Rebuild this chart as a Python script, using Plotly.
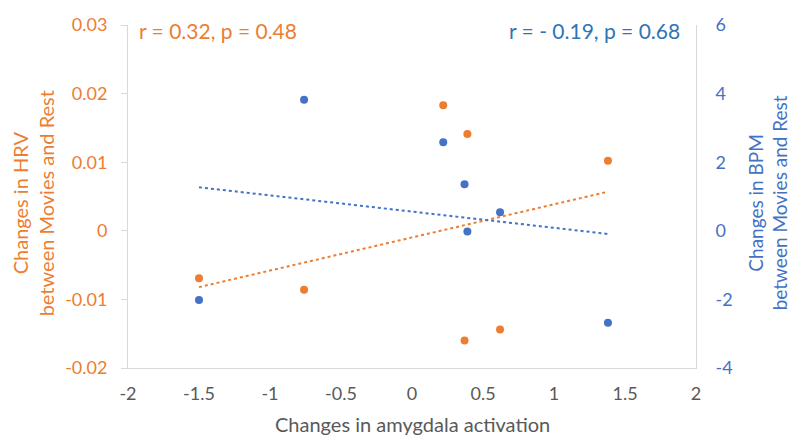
import numpy as np
import plotly.graph_objects as go

# Data
amygdala = [-1.50, -0.76, 0.22, 0.37, 0.39, 0.62, 1.38]
hrv = [-0.0069, -0.0086, 0.0183, -0.0160, 0.0141, -0.0144, 0.0102]
bpm = [-2.02, 3.82, 2.58, 1.36, -0.02, 0.54, -2.68]

x_ticks = [-2, -1.5, -1, -0.5, 0, 0.5, 1, 1.5, 2]
hrv_ticks = [-0.02, -0.01, 0, 0.01, 0.02, 0.03]
hrv_tick_labels = ["-0.02", "-0.01", "0", "0.01", "0.02", "0.03"]
bpm_ticks = [-4, -2, 0, 2, 4, 6]

hrv_label = "r = 0.32, p = 0.48"
bpm_label = "r = - 0.19, p = 0.68"

ORANGE = "#ED7D31"
BLUE = "#4472C4"
BLUE_TXT = "#2E75B6"
GRAY = "#595959"
AXIS = "#D9D9D9"
FONT = "Lato, 'Open Sans', sans-serif"

xa = np.array(amygdala)
x_line = np.array([xa.min(), xa.max()])
k1, b1 = np.polyfit(xa, np.array(hrv), 1)
k2, b2 = np.polyfit(xa, np.array(bpm), 1)

fig = go.Figure()
fig.add_trace(go.Scatter(x=x_line, y=k1 * x_line + b1, mode="lines",
                         line=dict(color=ORANGE, width=2, dash="dot"),
                         yaxis="y", showlegend=False, hoverinfo="skip"))
fig.add_trace(go.Scatter(x=x_line, y=k2 * x_line + b2, mode="lines",
                         line=dict(color=BLUE, width=2, dash="dot"),
                         yaxis="y2", showlegend=False, hoverinfo="skip"))
fig.add_trace(go.Scatter(x=amygdala, y=hrv, mode="markers",
                         marker=dict(color=ORANGE, size=8),
                         yaxis="y", showlegend=False))
fig.add_trace(go.Scatter(x=amygdala, y=bpm, mode="markers",
                         marker=dict(color=BLUE, size=8),
                         yaxis="y2", showlegend=False))

fig.update_layout(
    width=794, height=437,
    margin=dict(l=128, r=98, t=25, b=69),
    paper_bgcolor="white", plot_bgcolor="white",
    font=dict(family=FONT, size=18, color=GRAY),
    xaxis=dict(range=[-2, 2], tickvals=x_ticks, ticktext=[str(t) for t in x_ticks],
               showgrid=False, zeroline=False, showline=True, linecolor=AXIS,
               linewidth=1, ticks="", ticklabelstandoff=9,
               tickfont=dict(color=GRAY, size=18), fixedrange=True),
    yaxis=dict(range=[-0.02, 0.03], tickvals=hrv_ticks, ticktext=hrv_tick_labels,
               showgrid=False, zeroline=False, showline=True, linecolor=AXIS,
               linewidth=1, ticks="outside", ticklen=6, tickcolor=AXIS,
               ticklabelstandoff=10,
               tickfont=dict(color=ORANGE, size=18)),
    yaxis2=dict(range=[-4, 6], tickvals=bpm_ticks, ticktext=[str(t) for t in bpm_ticks],
                overlaying="y", side="right", showgrid=False, zeroline=False,
                showline=True, linecolor=AXIS, linewidth=1, ticks="",
                ticklabelstandoff=15,
                tickfont=dict(color=BLUE, size=18)),
    annotations=[
        dict(text=hrv_label, x=0.015, y=1.0, xref="paper", yref="paper",
             xanchor="left", yanchor="middle", yshift=-5, showarrow=False,
             font=dict(color=ORANGE, size=21, family=FONT)),
        dict(text=bpm_label, x=0.975, y=1.0, xref="paper", yref="paper",
             xanchor="right", yanchor="middle", yshift=-5, showarrow=False,
             font=dict(color=BLUE_TXT, size=21, family=FONT)),
        dict(text="Changes in amygdala activation", x=0.5, y=0, xref="paper",
             yref="paper", xanchor="center", yanchor="middle", yshift=-56,
             showarrow=False, font=dict(color=GRAY, size=20, family=FONT)),
        dict(text="Changes in HRV<br>between Movies and Rest", x=0, y=0.48,
             xref="paper", yref="paper", xanchor="center", yanchor="middle",
             xshift=-95, textangle=-90, showarrow=False,
             font=dict(color=ORANGE, size=20, family=FONT)),
        dict(text="Changes in BPM<br>between Movies and Rest", x=1, y=0.48,
             xref="paper", yref="paper", xanchor="center", yanchor="middle",
             xshift=72, textangle=-90, showarrow=False,
             font=dict(color=BLUE, size=19, family=FONT)),
    ],
)

fig.write_html("out.html", config={"displayModeBar": False},
               post_script="document.body.style.margin='0';document.body.style.padding='0';")
